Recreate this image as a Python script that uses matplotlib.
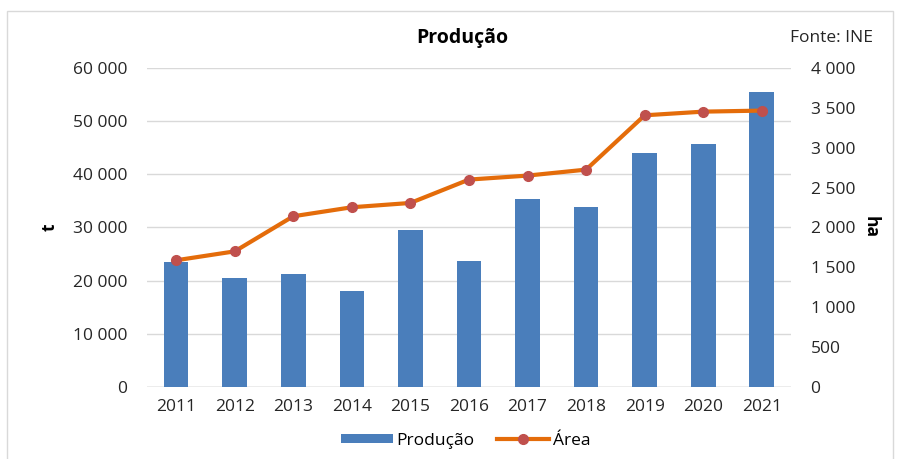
import matplotlib
matplotlib.use("Agg")
import matplotlib.pyplot as plt
from matplotlib.lines import Line2D
from matplotlib.patches import Patch, Rectangle
from matplotlib.ticker import FuncFormatter, MultipleLocator

years = ["2011", "2012", "2013", "2014", "2015", "2016", "2017", "2018", "2019", "2020", "2021"]
producao = [23500, 20400, 21300, 18100, 29600, 23600, 35400, 33900, 44000, 45600, 55400]
area = [1588, 1700, 2140, 2253, 2307, 2600, 2650, 2725, 3406, 3452, 3465]

plt.rcParams['font.family'] = ['Open Sans', 'DejaVu Sans']

fig = plt.figure(figsize=(9.01, 4.59), dpi=100)
ax = fig.add_axes([0.163, 0.157, 0.715, 0.695])
ax2 = ax.twinx()

x = list(range(len(years)))
ax.bar(x, producao, width=0.42, color='#4a7ebb', zorder=2)
ax2.plot(x, area, color='#e46c0a', lw=3, marker='o', markersize=7,
         markerfacecolor='#c0504d', markeredgecolor='#c0504d', zorder=3)

fmt = FuncFormatter(lambda v, p: f"{int(v):,}".replace(",", " "))
ax.set_ylim(0, 60000)
ax.yaxis.set_major_locator(MultipleLocator(10000))
ax.yaxis.set_major_formatter(fmt)
ax2.set_ylim(0, 4000)
ax2.yaxis.set_major_locator(MultipleLocator(500))
ax2.yaxis.set_major_formatter(fmt)
ax.set_xlim(-0.5, len(years) - 0.5)
ax.set_xticks(x)
ax.set_xticklabels(years)

ax.grid(axis='y', color='#d9d9d9', lw=1, zorder=0)
ax.set_axisbelow(True)
for a in (ax, ax2):
    for s in ('top', 'left', 'right', 'bottom'):
        a.spines[s].set_visible(False)
ax.axhline(0, color='#bfbfbf', lw=1, zorder=1)

ax.tick_params(axis='y', length=0, labelsize=12.5, colors='#262626', pad=14)
ax2.tick_params(axis='y', length=0, labelsize=12.5, colors='#262626', pad=14)
ax.tick_params(axis='x', length=0, labelsize=12.5, colors='#262626', pad=9)

ax.set_ylabel('t', fontsize=12.5, fontweight='bold', va='center')
ax.yaxis.set_label_coords(-0.151, 0.5)
ax2.set_ylabel('ha', fontsize=12.5, fontweight='bold', rotation=-90, va='center')
ax2.yaxis.set_label_coords(1.124, 0.5)

fig.text(0.513, 0.917, 'Produção', ha='center', va='center', fontsize=14, fontweight='bold')
fig.text(0.923, 0.917, 'Fonte: INE', ha='center', va='center', fontsize=12.5, color='#262626')

handles = [Patch(facecolor='#4a7ebb', label='Produção'),
           Line2D([0], [0], color='#e46c0a', lw=3, marker='o', markersize=7,
                  markerfacecolor='#c0504d', markeredgecolor='#c0504d', label='Área')]
fig.legend(handles=handles, loc='center', bbox_to_anchor=(0.517, 0.04), ncol=2,
           frameon=False, fontsize=12.5, handlelength=3.0, handleheight=0.4,
           columnspacing=1.3, handletextpad=0.2)

fig.patches.append(Rectangle((0.008, -0.01), 0.983, 0.985, transform=fig.transFigure,
                             fill=False, edgecolor='#d9d9d9', lw=1))

fig.savefig('out.png', dpi=100)
